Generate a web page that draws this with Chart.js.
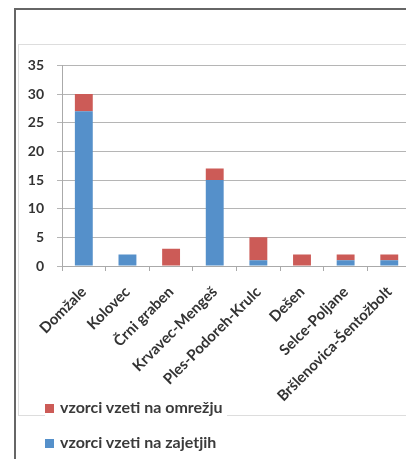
<!DOCTYPE html>
<html>
<head>
<meta charset="utf-8">
<script src="https://cdn.jsdelivr.net/npm/chart.js@4"></script>
<style>
    body { margin: 0; width: 406px; height: 459px; overflow: hidden; background: #fff; font-family: Lato, sans-serif; position: relative; }
    .frame { position: absolute; left: 14px; top: 8px; width: 500px; height: 500px; border-left: 2px solid #666; border-top: 2px solid #666; }
    .box { position: absolute; left: 18px; top: 44px; width: 500px; height: 370px; border: 1px solid #ddd; }
    .wrap { position: absolute; left: 0; top: 44px; width: 414px; height: 370px; }
    .legend { position: absolute; left: 45px; top: 398px; font-size: 16px; font-weight: bold; color: #3a3a3a; }
    .legend div { height: 35px; line-height: 18px; white-space: nowrap; background: #fff; padding-right: 4px; }
    .legend span { display: inline-block; width: 9px; height: 9px; margin-right: 6px; }
</style>
</head>
<body>
<div class="frame"></div>
<div class="box"></div>
<div class="wrap"><canvas id="chart"></canvas></div>
<div class="legend" id="legend"></div>

<script>
    const categories = ["Domžale", "Kolovec", "Črni graben", "Krvavec-Mengeš", "Ples-Podoreh-Krulc", "Dešen", "Selce-Poljane", "Bršlenovica-Šentožbolt"];
    const zajetja = [27, 2, 0, 15, 1, 0, 1, 1];
    const omrezje = [3, 0, 3, 2, 4, 2, 1, 1];
    const yTicks = [0, 5, 10, 15, 20, 25, 30, 35];

    const blue = "#5590ca";
    const red = "#cc5b57";

    let ctx = document.getElementById("chart").getContext("2d");

    new Chart(ctx, {
        type: "bar",
        data: {
            labels: categories,
            datasets: [
                { label: "vzorci vzeti na zajetjih", data: zajetja, backgroundColor: blue },
                { label: "vzorci vzeti na omrežju", data: omrezje, backgroundColor: red }
            ]
        },
        options: {
            responsive: true,
            maintainAspectRatio: false,
            animation: false,
            layout: { padding: { top: 19, left: 0, right: 0, bottom: 0 } },
            datasets: { bar: { barPercentage: 0.41, categoryPercentage: 1 } },
            plugins: { legend: { display: false }, tooltip: { enabled: false } },
            scales: {
                x: {
                    stacked: true,
                    afterFit: s => { s.height = 148; },
                    grid: { drawOnChartArea: false, tickLength: 5, color: "#aaa" },
                    border: { color: "#aaa" },
                    ticks: {
                        autoSkip: false, minRotation: 45, maxRotation: 45, padding: 12,
                        color: "#333", font: { family: "Lato", size: 15, weight: "bold" }
                    }
                },
                y: {
                    stacked: true,
                    min: 0, max: 35,
                    afterFit: s => { s.width = 62; },
                    afterBuildTicks: s => { s.ticks = yTicks.map(v => ({ value: v })); },
                    grid: { color: "#b5b5b5", tickLength: 5 },
                    border: { color: "#aaa" },
                    ticks: { padding: 13, color: "#333", font: { family: "Lato", size: 14, weight: "bold" } }
                }
            }
        }
    });

    // legend, red item first as in the original
    const legend = document.getElementById("legend");
    [["vzorci vzeti na omrežju", red], ["vzorci vzeti na zajetjih", blue]].forEach(([text, color]) => {
        const row = document.createElement("div");
        row.innerHTML = '<span style="background:' + color + '"></span>' + text;
        legend.appendChild(row);
    });
</script>
</body>
</html>
